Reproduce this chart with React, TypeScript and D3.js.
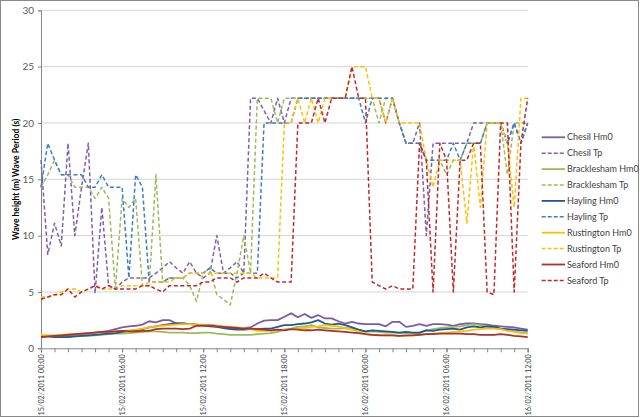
import React, { useRef, useEffect } from 'react';
import * as d3 from 'd3';

// half-hourly records, 15/02/2011 00:00 to 16/02/2011 12:00
const startTime = Date.UTC(2011, 1, 15, 0, 0);
const times = d3.range(73).map(i => new Date(startTime + i * 30 * 60 * 1000));

const yTicks = [0, 5, 10, 15, 20, 25, 30];

const chesilHm0 = [
  1.0, 1.05, 1.1, 1.12, 1.15, 1.2, 1.25, 1.3, 1.4, 1.45,
  1.55, 1.7, 1.85, 1.95, 2.0, 2.1, 2.4, 2.3, 2.5, 2.5,
  2.2, 2.2, 2.15, 2.1, 2.07, 2.05, 2.0, 1.9, 1.8, 1.75,
  1.8, 1.85, 2.2, 2.45, 2.5, 2.5, 2.8, 3.1, 2.75, 3.05,
  2.7, 2.95, 2.65, 2.65, 2.4, 2.2, 2.35, 2.2, 2.15, 2.15,
  2.15, 1.95, 2.35, 2.35, 1.9, 2.0, 2.15, 2.0, 2.15, 2.15,
  2.1, 2.0, 2.15, 2.2, 2.2, 2.15, 2.1, 2.0, 1.95, 1.9,
  1.85, 1.75, 1.65,
];
const chesilTp = [
  16.7, 8.33, 11.1, 9.09, 18.2, 10, 14.3, 18.2, 4.88, 12.5,
  5.56, 5.26, 5.88, 6.25, 6.25, 6.25, 6.25, 6.67, 7.14, 7.69,
  7.14, 6.67, 7.69, 6.67, 6.25, 6.67, 10, 6.67, 7.14, 7.69,
  6.67, 22.2, 22.2, 21.1, 20, 22.2, 20, 22.2, 22.2, 22.2,
  22.2, 22.2, 22.2, 22.2, 22.2, 22.2, 22.2, 22.2, 22.2, 22.2,
  22.2, 20, 22.2, 20, 18.2, 18.2, 20, 10, 18.2, 18.2,
  18.2, 18.2, 18.2, 18.2, 20, 20, 20, 20, 20, 18.2,
  20, 18.2, 20,
];
const brackleshamHm0 = [
  1.15, 1.1, 1.05, 1.05, 1.05, 1.05, 1.1, 1.1, 1.15, 1.2,
  1.25, 1.3, 1.3, 1.35, 1.4, 1.45, 1.5, 1.5, 1.45, 1.4,
  1.4, 1.4, 1.35, 1.35, 1.4, 1.4, 1.3, 1.25, 1.2, 1.2,
  1.2, 1.2, 1.25, 1.3, 1.35, 1.45, 1.65, 1.75, 1.9, 1.95,
  2.05, 1.85, 1.8, 1.75, 1.75, 1.8, 1.75, 1.6, 1.45, 1.5,
  1.45, 1.4, 1.4, 1.35, 1.35, 1.35, 1.35, 1.6, 1.7, 1.8,
  1.85, 1.9, 1.95, 2.05, 2.15, 2.05, 1.95, 1.8, 1.7, 1.6,
  1.5, 1.4, 1.35,
];
const brackleshamTp = [
  14.3, 15.4, 16.7, 15.4, 15.4, 14.3, 14.3, 14.3, 13.3, 14.3,
  13.3, 5.26, 13.3, 12.5, 13.3, 5.56, 5.56, 15.4, 5.88, 6.25,
  6.25, 6.25, 5.56, 4.17, 6.67, 7.14, 4.76, 4.35, 3.85, 6.67,
  10, 6.67, 22.2, 22.2, 22.2, 20, 22.2, 22.2, 22.2, 22.2,
  22.2, 22.2, 22.2, 22.2, 22.2, 22.2, 22.2, 22.2, 22.2, 22.2,
  20, 22.2, 22.2, 20, 18.2, 18.2, 18.2, 16.7, 16.7, 16.7,
  15.4, 16.7, 16.7, 18.2, 18.2, 18.2, 20, 20, 20, 15.4,
  20, 20, 20,
];
const haylingHm0 = [
  1.1, 1.05, 1.0, 1.0, 1.0, 1.05, 1.1, 1.15, 1.2, 1.25,
  1.3, 1.35, 1.45, 1.55, 1.6, 1.7, 1.85, 1.95, 2.05, 2.15,
  2.2, 2.2, 2.15, 2.1, 2.05, 1.95, 1.9, 1.8, 1.7, 1.65,
  1.65, 1.7, 1.7, 1.75, 1.75, 1.9, 2.05, 2.05, 2.15, 2.2,
  2.3, 2.5, 2.2, 2.1, 2.2, 2.05, 1.85, 1.65, 1.5, 1.6,
  1.55, 1.5, 1.45, 1.4, 1.45, 1.4, 1.4, 1.6, 1.55, 1.65,
  1.7, 1.75, 1.65, 1.85, 1.95, 1.85, 1.95, 1.9, 1.75, 1.7,
  1.65, 1.6, 1.55,
];
const haylingTp = [
  14.3, 18.2, 16.7, 15.4, 15.4, 15.4, 15.4, 14.3, 14.3, 15.4,
  14.3, 14.3, 14.3, 6.25, 15.4, 14.3, 5.88, 5.88, 5.88, 6.25,
  6.25, 6.25, 6.67, 6.67, 6.67, 7.14, 6.67, 6.67, 6.67, 6.25,
  6.67, 6.67, 6.67, 20, 20, 20, 20, 20, 22.2, 22.2,
  22.2, 22.2, 22.2, 22.2, 22.2, 22.2, 22.2, 22.2, 20, 22.2,
  22.2, 22.2, 22.2, 20, 18.2, 18.2, 18.2, 16.7, 16.7, 16.7,
  16.7, 18.2, 16.7, 18.2, 18.2, 18.2, 20, 20, 20, 18.2,
  20, 18.2, 20,
];
const rustingtonHm0 = [
  1.2, 1.15, 1.15, 1.2, 1.25, 1.25, 1.3, 1.35, 1.4, 1.45,
  1.45, 1.5, 1.55, 1.6, 1.65, 1.75, 1.85, 1.95, 2.0, 2.05,
  2.1, 2.15, 2.15, 2.1, 2.1, 2.05, 2.0, 1.95, 1.9, 1.85,
  1.8, 1.7, 1.55, 1.55, 1.55, 1.6, 1.65, 1.7, 1.75, 1.8,
  1.9, 1.95, 2.05, 2.0, 1.95, 1.8, 1.65, 1.5, 1.25, 1.2,
  1.2, 1.15, 1.15, 1.1, 1.1, 1.15, 1.2, 1.25, 1.3, 1.35,
  1.4, 1.45, 1.5, 1.55, 1.65, 1.7, 1.75, 1.75, 1.7, 1.55,
  1.45, 1.35, 1.3,
];
const rustingtonTp = [
  4.55, 4.55, 4.76, 5.0, 5.26, 5.26, 5.0, 5.26, 5.56, 5.26,
  5.26, 5.26, 5.56, 5.56, 5.56, 5.56, 5.88, 5.88, 5.88, 5.88,
  6.25, 6.25, 6.67, 6.67, 6.67, 6.67, 6.67, 6.67, 6.67, 6.67,
  6.67, 6.67, 6.25, 6.25, 6.25, 6.25, 20, 20, 22.2, 20,
  22.2, 20, 22.2, 22.2, 22.2, 22.2, 25, 25, 25, 22.2,
  22.2, 20, 22.2, 20, 20, 20, 20, 16.7, 14.3, 16.7,
  16.7, 16.7, 16.7, 11.1, 18.2, 12.5, 20, 20, 20, 18.2,
  12.5, 22.2, 22.2,
];
const seafordHm0 = [
  1.0, 1.05, 1.1, 1.15, 1.2, 1.25, 1.3, 1.35, 1.4, 1.45,
  1.45, 1.5, 1.55, 1.5, 1.5, 1.55, 1.55, 1.7, 1.75, 1.75,
  1.75, 1.7, 1.75, 2.0, 2.0, 2.0, 1.95, 1.9, 1.85, 1.8,
  1.75, 1.75, 1.7, 1.65, 1.6, 1.65, 1.6, 1.7, 1.65, 1.6,
  1.6, 1.65, 1.6, 1.55, 1.5, 1.45, 1.4, 1.35, 1.25, 1.2,
  1.15, 1.15, 1.15, 1.1, 1.15, 1.15, 1.2, 1.25, 1.25, 1.3,
  1.3, 1.3, 1.3, 1.25, 1.25, 1.2, 1.2, 1.2, 1.25, 1.2,
  1.1, 1.05, 1.0,
];
const seafordTp = [
  4.35, 4.55, 4.76, 4.76, 5.26, 4.55, 5.0, 5.26, 5.56, 5.26,
  5.56, 5.26, 5.26, 5.26, 5.26, 5.56, 5.56, 5.26, 5.0, 5.56,
  5.56, 5.56, 5.56, 5.56, 5.88, 5.88, 6.25, 6.25, 6.25, 5.88,
  6.25, 6.25, 6.25, 6.67, 6.25, 5.88, 5.88, 5.88, 20, 20,
  20, 22.2, 20, 22.2, 22.2, 22.2, 25, 22.2, 22.2, 5.88,
  5.56, 5.26, 5.56, 5.26, 5.26, 5.26, 18.2, 16.7, 5.0, 18.2,
  16.7, 5.0, 16.7, 16.7, 18.2, 18.2, 5.0, 4.76, 20, 20,
  5.0, 18.2, 22.2,
];

const series = [
  { name: 'Chesil Hm0', values: chesilHm0, color: '#7C5BA6', dashed: false },
  { name: 'Chesil Tp', values: chesilTp, color: '#7D5FAE', dashed: true },
  { name: 'Bracklesham Hm0', values: brackleshamHm0, color: '#9BBB59', dashed: false },
  { name: 'Bracklesham Tp', values: brackleshamTp, color: '#9BBB59', dashed: true },
  { name: 'Hayling Hm0', values: haylingHm0, color: '#1F5896', dashed: false },
  { name: 'Hayling Tp', values: haylingTp, color: '#3B7DC8', dashed: true },
  { name: 'Rustington Hm0', values: rustingtonHm0, color: '#FFC000', dashed: false },
  { name: 'Rustington Tp', values: rustingtonTp, color: '#FFC000', dashed: true },
  { name: 'Seaford Hm0', values: seafordHm0, color: '#A8322F', dashed: false },
  { name: 'Seaford Tp', values: seafordTp, color: '#C0282D', dashed: true },
];

const FONT = 'Lato, "Liberation Sans", sans-serif';

const WaveChart = () => {
  const svgRef = useRef<SVGSVGElement>(null);

  useEffect(() => {
    if (!svgRef.current) return;
    const svg = d3.select(svgRef.current);
    svg.selectAll('*').remove();

    const width = 640;
    const height = 418;
    const left = 41;
    const right = 527.7;
    const top = 10.3;
    const bottom = 348.3;

    const x = d3.scaleUtc()
      .domain([times[0], times[times.length - 1]])
      .range([left, right]);
    const y = d3.scaleLinear().domain([0, 30]).range([bottom, top]);

    // outer chart border
    svg.append('rect')
      .attr('x', 0.5).attr('y', 0.5)
      .attr('width', width - 2).attr('height', height - 2)
      .attr('fill', '#fff')
      .attr('stroke', '#898989');

    // horizontal gridlines
    svg.append('g')
      .selectAll('line')
      .data(yTicks.filter(t => t > 0))
      .enter()
      .append('line')
      .attr('x1', left).attr('x2', right)
      .attr('y1', d => y(d)).attr('y2', d => y(d))
      .attr('stroke', '#D4D4D4')
      .attr('stroke-width', 1);

    // y axis
    const yAxis = svg.append('g')
      .attr('transform', `translate(${left},0)`)
      .call(d3.axisLeft(y).tickValues(yTicks).tickSize(3).tickPadding(4));
    yAxis.select('.domain').attr('stroke', '#868686');
    yAxis.selectAll('.tick line').attr('stroke', '#868686');
    yAxis.selectAll('.tick text')
      .attr('fill', '#595959')
      .attr('font-size', '10px')
      .attr('font-family', FONT);

    // x axis: minor ticks each hour, labels every 6 hours
    const xMinor = svg.append('g')
      .attr('transform', `translate(0,${bottom})`)
      .call(d3.axisBottom(x).ticks(d3.utcHour.every(1)).tickSize(4).tickFormat(() => ''));
    xMinor.select('.domain').attr('stroke', '#868686');
    xMinor.selectAll('.tick line').attr('stroke', '#868686');

    const fmt = d3.utcFormat('%d/%m/%Y %H:%M');
    const xMajor = svg.append('g')
      .attr('transform', `translate(0,${bottom})`)
      .call(d3.axisBottom(x).ticks(d3.utcHour.every(6)).tickSize(4).tickFormat(d => fmt(d as Date)));
    xMajor.select('.domain').remove();
    xMajor.selectAll('.tick line').attr('stroke', '#868686');
    xMajor.selectAll('.tick text')
      .attr('fill', '#404040')
      .attr('font-size', '7.3px')
      .attr('font-family', FONT)
      .attr('text-anchor', 'end')
      .attr('transform', 'rotate(-90)')
      .attr('x', -6)
      .attr('y', 0)
      .attr('dy', '0.32em');

    // y axis title
    svg.append('text')
      .attr('transform', `translate(17,${(top + bottom) / 2}) rotate(-90)`)
      .attr('text-anchor', 'middle')
      .attr('dominant-baseline', 'middle')
      .attr('font-size', '8.5px')
      .attr('font-weight', 'bold')
      .attr('font-family', FONT)
      .attr('fill', '#000')
      .text('Wave height (m) Wave Period (s)');

    // lines
    const line = d3.line<number>()
      .x((d, i) => x(times[i]))
      .y(d => y(d));

    const plot = svg.append('g');
    series.forEach(s => {
      plot.append('path')
        .datum(s.values)
        .attr('fill', 'none')
        .attr('stroke', s.color)
        .attr('stroke-width', s.dashed ? 1.5 : 1.8)
        .attr('stroke-dasharray', s.dashed ? '4,2.5' : null)
        .attr('stroke-linejoin', 'round')
        .attr('d', line);
    });

    // legend
    const legend = svg.append('g');
    series.forEach((s, k) => {
      const ly = 137.3 + k * 15.9;
      legend.append('line')
        .attr('x1', 541.7).attr('x2', 565)
        .attr('y1', ly).attr('y2', ly)
        .attr('stroke', s.color)
        .attr('stroke-width', s.dashed ? 1.5 : 1.8)
        .attr('stroke-dasharray', s.dashed ? '4,2' : null);
      legend.append('text')
        .attr('x', 567)
        .attr('y', ly)
        .attr('dy', '0.35em')
        .attr('font-size', '9px')
        .attr('font-family', FONT)
        .attr('fill', '#404040')
        .text(s.name);
    });
  }, []);

  return (
    <div>
      <style>{'body{margin:0;}'}</style>
      <svg ref={svgRef} width={640} height={418} style={{ display: 'block' }}></svg>
    </div>
  );
};

export default WaveChart;
